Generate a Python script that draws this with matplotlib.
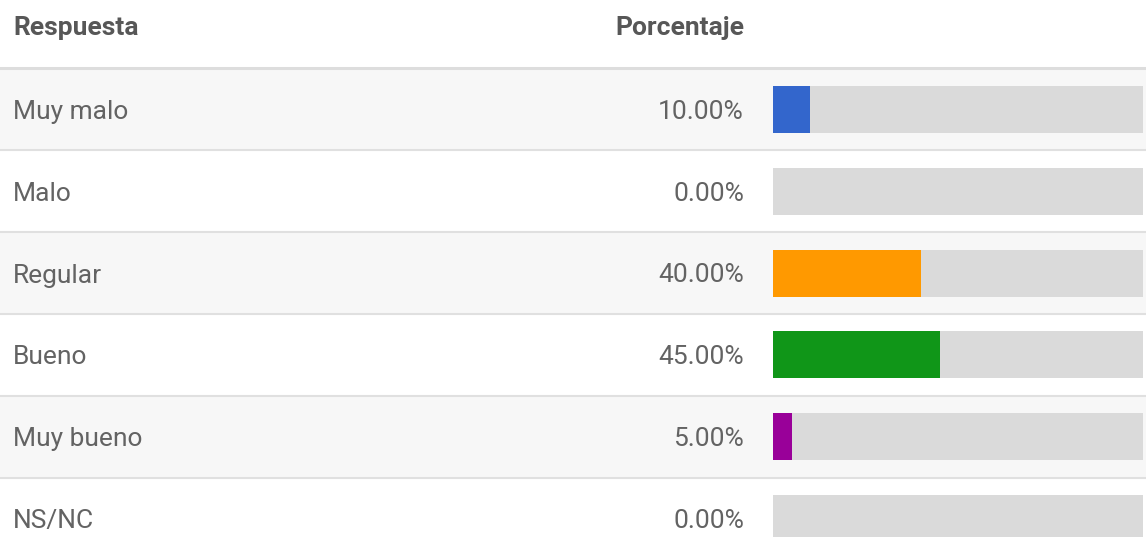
import matplotlib
matplotlib.use("Agg")
import matplotlib.pyplot as plt

plt.rcParams['font.family'] = ['Roboto', 'DejaVu Sans']

respuestas = ["Muy malo", "Malo", "Regular", "Bueno", "Muy bueno", "NS/NC"]
porcentajes = [10.0, 0.0, 40.0, 45.0, 5.0, 0.0]
colores = ["#3366cc", "#dc3912", "#ff9900", "#109618", "#990099", "#0099c6"]

W, H = 1146, 537
fig = plt.figure(figsize=(W / 100, H / 100), dpi=100)

# table background in pixel coordinates
ax = fig.add_axes([0, 0, 1, 1])
ax.set_xlim(0, W)
ax.set_ylim(H, 0)
ax.axis("off")

top = 68.5
row_h = 81.8
text_col = "#636363"

ax.text(13, 28.5, "Respuesta", fontsize=19, fontweight="bold", color="#575757",
        va="center", ha="left")
ax.text(744, 28.5, "Porcentaje", fontsize=19, fontweight="bold", color="#575757",
        va="center", ha="right")
ax.axhline(top - 1, color="#dddddd", lw=2.2)

centers = []
for i, (r, p) in enumerate(zip(respuestas, porcentajes)):
    y0 = top + i * row_h
    yc = y0 + row_h / 2
    centers.append(yc)
    if i % 2 == 0:
        ax.axhspan(y0, y0 + row_h, color="#f7f7f7", lw=0)
    if i < len(respuestas) - 1:
        ax.axhline(y0 + row_h, color="#e0e0e0", lw=1.5)
    ax.text(13, yc + 2.5, r, fontsize=19, color=text_col, va="center", ha="left")
    ax.text(744, yc + 2.5, f"{p:.2f}%", fontsize=19, color=text_col,
            va="center", ha="right")

# bar column: 0-100 % mapped to the column width
x0, x1 = 773, 1143
bax = fig.add_axes([x0 / W, 0, (x1 - x0) / W, 1])
bax.set_xlim(0, 100)
bax.set_ylim(H, 0)
bax.axis("off")
bax.patch.set_alpha(0)
bax.barh(centers, [100] * len(centers), height=47, color="#dadada", left=0)
bax.barh(centers, porcentajes, height=47, color=colores, left=0)

fig.savefig("out.png", dpi=100)
